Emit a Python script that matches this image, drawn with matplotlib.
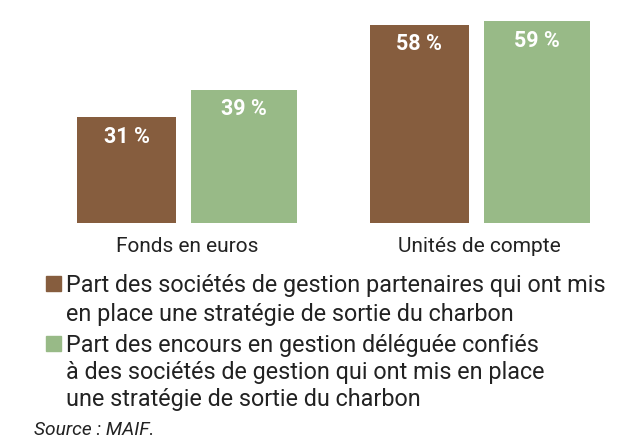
import matplotlib.pyplot as plt
from matplotlib.patches import Rectangle

plt.rcParams['font.family'] = ['Roboto', 'DejaVu Sans']

categories = ['Fonds en euros', 'Unités de compte']
part_societes = [31, 58]
part_encours = [39, 59]
value_labels_societes = ['31\u202f%', '58\u202f%']
value_labels_encours = ['39\u202f%', '59\u202f%']
legend_labels = [
    'Part des sociétés de gestion partenaires qui ont mis\nen place une stratégie de sortie du charbon',
    'Part des encours en gestion déléguée confiés\nà des sociétés de gestion qui ont mis en place\nune stratégie de sortie du charbon',
]
source = 'Source : MAIF.'

brown = '#865D3E'
green = '#98BA87'
txt = '#222222'

W, H = 641, 440
fig = plt.figure(figsize=(W / 100, H / 100), dpi=100)

# axes: bars bottom at y=223px from top, 3.42 px per %
px_per_unit = 292.5
x0_px = 187
bottom_px = H - 223
ax = fig.add_axes([0, bottom_px / H, 1, 60 * 3.42 / H])
ax.set_xlim(-x0_px / px_per_unit, (W - x0_px) / px_per_unit)
ax.set_ylim(0, 60)
ax.axis('off')

xs = range(len(categories))
off_b = -60.5 / px_per_unit
off_g = 57 / px_per_unit
wb = 99 / px_per_unit
wg = 106 / px_per_unit

bars_b = ax.bar([x + off_b for x in xs], part_societes, width=wb, color=brown)
bars_g = ax.bar([x + off_g for x in xs], part_encours, width=wg, color=green)

for bars, labels in [(bars_b, value_labels_societes), (bars_g, value_labels_encours)]:
    for b, lab in zip(bars, labels):
        ax.annotate(lab, (b.get_x() + b.get_width() / 2, b.get_height()),
                    xytext=(0, -18.5), textcoords='offset points',
                    ha='center', va='baseline', color='white',
                    fontsize=15.5, fontweight='bold')

for x, cat in zip(xs, categories):
    ax.annotate(cat, (x, 0), xytext=(0, -21), textcoords='offset points',
                ha='center', va='baseline', fontsize=15, color=txt)

# legend, one text per line (baselines in px from top)
line_base = [[292, 321], [352, 379, 406]]
for lab, col, ys in zip(legend_labels, [brown, green], line_base):
    fig.add_artist(Rectangle((46 / W, 1 - (ys[0] - 1) / H), 15 / W, 15 / H,
                             transform=fig.transFigure, color=col))
    for line, y in zip(lab.split('\n'), ys):
        fig.text(66 / W, 1 - y / H, line, ha='left', va='baseline',
                 fontsize=16.8, color=txt)

fig.text(34 / W, 1 - 435 / H, source, ha='left', va='baseline',
         fontsize=13.8, style='italic', color=txt)

fig.savefig('out.png', dpi=100)
